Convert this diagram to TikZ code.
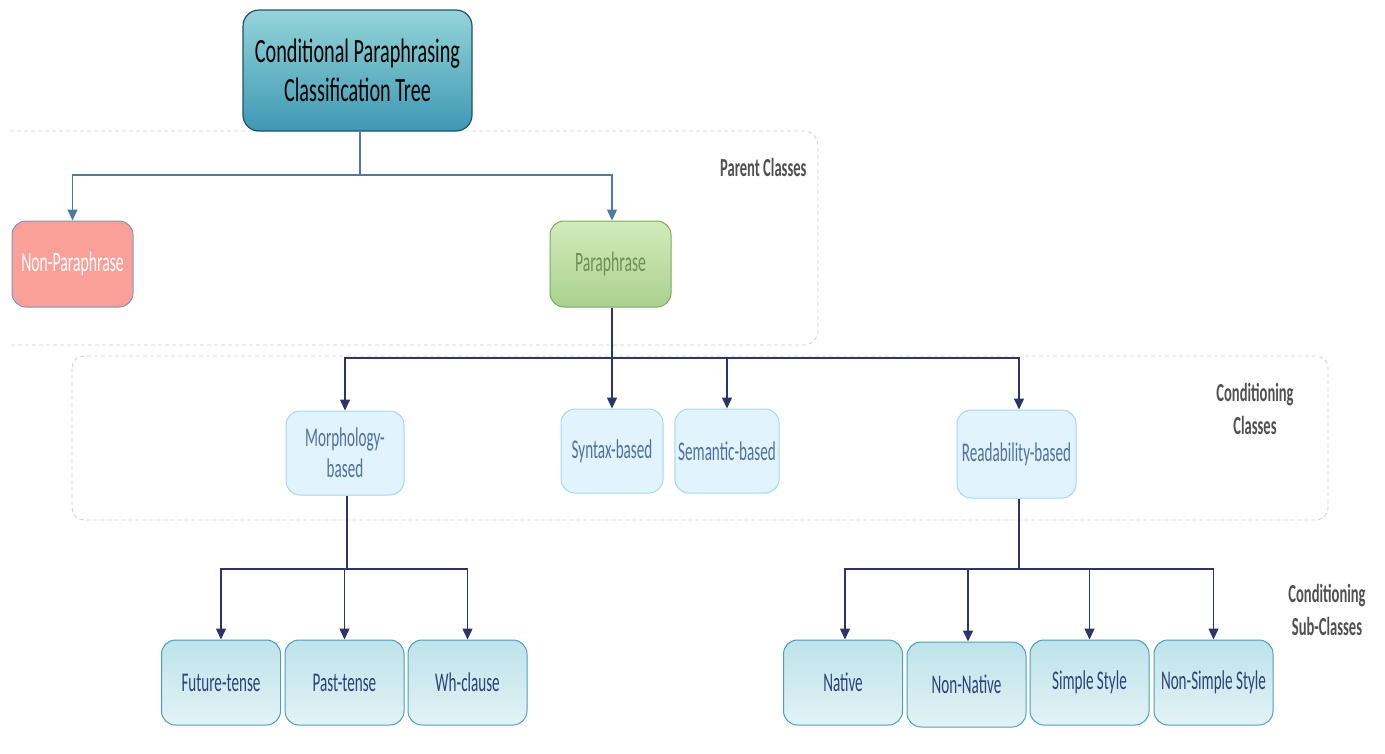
\documentclass[tikz,border=0pt]{standalone}
\usepackage{fontspec}
\setmainfont{Carlito}[FakeStretch=0.56]
\newfontfamily\rootfont{Carlito}[FakeStretch=0.595]
\usetikzlibrary{arrows.meta}
\definecolor{rootTop}{HTML}{94D4D8}
\definecolor{rootBot}{HTML}{3E98B4}
\definecolor{rootLine}{HTML}{1F5070}
\definecolor{npFill}{HTML}{FBA098}
\definecolor{npLine}{HTML}{7F96B8}
\definecolor{pTop}{HTML}{D3EBBC}
\definecolor{pBot}{HTML}{A9D18E}
\definecolor{pLine}{HTML}{7DAA5A}
\definecolor{pText}{HTML}{6E8E58}
\definecolor{ccFill}{HTML}{E1F3FD}
\definecolor{ccLine}{HTML}{A5D6F2}
\definecolor{ccText}{HTML}{4E71A0}
\definecolor{scTop}{HTML}{BDE3EA}
\definecolor{scBot}{HTML}{E2F3F6}
\definecolor{scLine}{HTML}{4B9FBE}
\definecolor{scText}{HTML}{2F4176}
\definecolor{conA}{HTML}{4B7AA3}
\definecolor{conB}{HTML}{2D3468}
\definecolor{dashGray}{HTML}{CFCFCF}
\definecolor{lblGray}{HTML}{505050}
\tikzset{
  rootbox/.style={draw=rootLine, line width=1.2pt, rounded corners=16, top color=rootTop, bottom color=rootBot,
    minimum width=229, minimum height=121, align=center, text=black, font=\rootfont\fontsize{34}{39}\selectfont},
  npbox/.style={draw=npLine, line width=1pt, rounded corners=14, fill=npFill,
    minimum width=121, minimum height=86, text=white, font=\fontsize{28}{31}\selectfont},
  pbox/.style={draw=pLine, line width=1pt, rounded corners=14, top color=pTop, bottom color=pBot,
    minimum width=121, minimum height=86, text=pText, font=\fontsize{28}{31}\selectfont},
  ccbox/.style={draw=ccLine, line width=1pt, rounded corners=14, fill=ccFill,
    minimum height=84, align=center, text=ccText, font=\fontsize{27}{31}\selectfont},
  scbox/.style={draw=scLine, line width=1pt, rounded corners=14, top color=scTop, bottom color=scBot,
    minimum width=119, minimum height=85, text=scText, font=\fontsize{27}{31}\selectfont},
  dbox/.style={draw=dashGray, line width=0.8pt, dash pattern=on 4pt off 3pt},
  lbl/.style={text=lblGray, font=\bfseries\fontsize{26}{33}\selectfont, align=center},
  lineA/.style={draw=conA, line width=1.3pt},
  arrA/.style={lineA, -{Triangle[width=10pt,length=11pt]}},
  lineB/.style={draw=conB, line width=1.5pt},
  arrB/.style={lineB, -{Triangle[width=10pt,length=11pt]}}
}
\begin{document}
\begin{tikzpicture}[x=1pt,y=-1pt]
\useasboundingbox (0,0) rectangle (1385,753);
% dashed group boxes
\draw[dbox, rounded corners=14] (10,131) -- (818,131) -- (818,345) -- (10,345);
\draw[dbox, rounded corners=12] (72,356) rectangle (1328,520);
% labels
\node[lbl, anchor=east] (lpc) at (810,167) {Parent Classes};
\node[lbl] (lcc) at (1255,409) {Conditioning\\Classes};
\node[lbl] (lsc) at (1327,610) {Conditioning\\Sub-Classes};
% nodes
\node[rootbox] (root) at (357.5,70.5) {Conditional Paraphrasing\\Classification Tree};
\node[npbox] (np) at (72.5,264) {Non-Paraphrase};
\node[pbox] (p) at (610.5,264) {Paraphrase};
\node[ccbox, minimum width=118] (morph) at (345,453) {Morphology-\\based};
\node[ccbox, minimum width=102] (syn) at (612,451) {Syntax-based};
\node[ccbox, minimum width=102] (sem) at (727,451) {Semantic-based};
\node[ccbox, minimum width=119, minimum height=88] (read) at (1016.5,454) {Readability-based};
\node[scbox] (fut) at (221,682.5) {Future-tense};
\node[scbox] (past) at (344.5,682.5) {Past-tense};
\node[scbox] (wh) at (467.5,682.5) {Wh-clause};
\node[scbox] (nat) at (843,682.5) {Native};
\node[scbox] (nnat) at (966.5,684.5) {Non-Native};
\node[scbox] (simp) at (1089.5,682.5) {Simple Style};
\node[scbox] (nsimp) at (1213.5,682.5) {Non-Simple Style};
% bus levels
\coordinate (y1) at (0,175);
\coordinate (y2) at (0,358);
\coordinate (y3) at (0,569);
% connectors: root
\draw[lineA] ([xshift=2.5pt]root.south) -- ([xshift=2.5pt]root.south |- y1);
\draw[arrA] ([xshift=2.5pt]root.south |- y1) -| (np.north);
\draw[arrA] ([xshift=2.5pt]root.south |- y1) -| ([xshift=1.5pt]p.north);
% connectors: paraphrase
\draw[lineB] ([xshift=1.5pt]p.south) -- ([xshift=1.5pt]p.south |- y2);
\draw[arrB] ([xshift=1.5pt]p.south |- y2) -| (morph.north);
\draw[arrB] ([xshift=1.5pt]p.south |- y2) -- (syn.north);
\draw[arrB] ([xshift=1.5pt]p.south |- y2) -| (sem.north);
\draw[arrB] ([xshift=1.5pt]p.south |- y2) -| ([xshift=2.5pt]read.north);
% connectors: morphology
\draw[lineB] ([xshift=2pt]morph.south) -- ([xshift=2pt]morph.south |- y3);
\draw[arrB] ([xshift=2pt]morph.south |- y3) -| (fut.north);
\draw[arrB] ([xshift=2pt]morph.south |- y3) -| (past.north);
\draw[arrB] ([xshift=2pt]morph.south |- y3) -| (wh.north);
% connectors: readability
\draw[lineB] ([xshift=2.5pt]read.south) -- ([xshift=2.5pt]read.south |- y3);
\draw[arrB] ([xshift=2.5pt]read.south |- y3) -| ([xshift=2pt]nat.north);
\draw[arrB] ([xshift=2.5pt]read.south |- y3) -| ([xshift=1.5pt]nnat.north);
\draw[arrB] ([xshift=2.5pt]read.south |- y3) -| (simp.north);
\draw[arrB] ([xshift=2.5pt]read.south |- y3) -| (nsimp.north);
\end{tikzpicture}
\end{document}
